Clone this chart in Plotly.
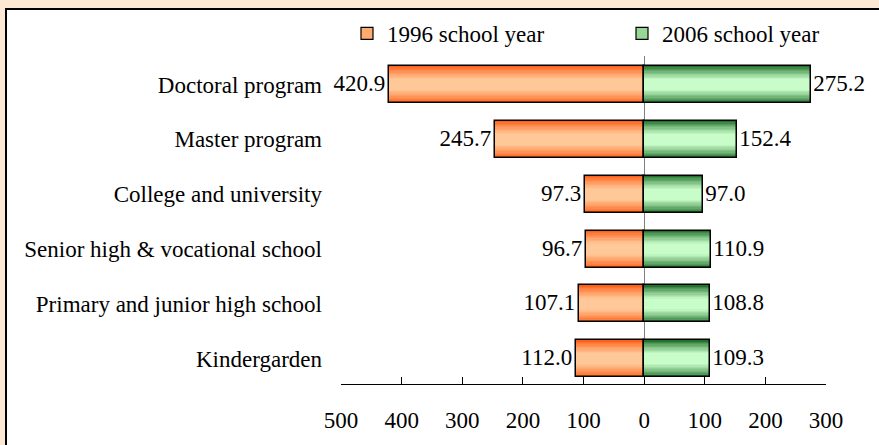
import plotly.graph_objects as go

categories = ["Kindergarden", "Primary and junior high school", "Senior high & vocational school",
              "College and university", "Master program", "Doctoral program"]
values_1996 = [112.0, 107.1, 96.7, 97.3, 245.7, 420.9]
values_2006 = [109.3, 108.8, 110.9, 97.0, 152.4, 275.2]
series_names = ["1996 school year", "2006 school year"]
tick_values = [-500, -400, -300, -200, -100, 0, 100, 200, 300]
tick_labels = ["500", "400", "300", "200", "100", "0", "100", "200", "300"]

FONT = "Liberation Serif, Times New Roman, serif"
FS = 23
W, H = 879, 445
L, R, T, B = 341, 53, 52, 58
pw, ph = W - L - R, H - T - B

def px2x(p):
    return (p - L) / pw

def py2y(p):
    return (H - B - p) / ph

def mix(c1, c2, t):
    return "rgb(%d,%d,%d)" % tuple(round(a + (b - a) * t) for a, b in zip(c1, c2))

BAR_W = 0.675
N = 14
orange_edge, orange_mid = (255, 96, 25), (255, 200, 152)
green_edge, green_mid = (35, 115, 45), (200, 252, 200)

ypos = list(range(len(categories)))
left_x = [-v for v in values_1996]

fig = go.Figure()
# gradient layers (edge -> centre)
for vals, edge, mid in [(left_x, orange_edge, orange_mid), (values_2006, green_edge, green_mid)]:
    for k in range(N):
        t = k / (N - 1)
        f = min(1.0, (t / 0.75) ** 0.8)
        fig.add_trace(go.Bar(
            y=ypos, x=vals, orientation="h", width=BAR_W * (1 - k / N),
            marker=dict(color=mix(edge, mid, f), line=dict(width=0)),
            showlegend=False, hoverinfo="skip"))

# outlines + value labels
for vals, raw in [(left_x, values_1996), (values_2006, values_2006)]:
    fig.add_trace(go.Bar(
        y=ypos, x=vals, orientation="h", width=BAR_W,
        marker=dict(color="rgba(0,0,0,0)", line=dict(color="black", width=1.5)),
        text=["%.1f" % v for v in raw], textposition="outside", cliponaxis=False,
        constraintext="none", textfont=dict(family=FONT, size=FS, color="black"),
        showlegend=False, hoverinfo="skip"))

# legend entries
fig.add_trace(go.Bar(y=[None], x=[None], orientation="h", name=series_names[0],
                     marker=dict(color="rgb(255,170,110)", line=dict(color="black", width=1.2)),
                     legend="legend"))
fig.add_trace(go.Bar(y=[None], x=[None], orientation="h", name=series_names[1],
                     marker=dict(color="rgb(150,215,150)", line=dict(color="black", width=1.2)),
                     legend="legend2"))

leg = dict(orientation="h", yanchor="middle", y=py2y(29), xanchor="left",
           font=dict(family=FONT, size=FS, color="black"), bgcolor="rgba(0,0,0,0)",
           borderwidth=0, itemclick=False)

fig.update_layout(
    width=W, height=H,
    margin=dict(l=L, r=R, t=T, b=B),
    paper_bgcolor="#FDE8D4", plot_bgcolor="rgba(0,0,0,0)",
    barmode="overlay", bargap=0,
    font=dict(family=FONT, size=FS, color="black"),
    legend=dict(leg, x=px2x(347)),
    legend2=dict(leg, x=px2x(622)),
    xaxis=dict(range=[-500, 300], tickvals=tick_values, ticktext=tick_labels,
               showline=True, linecolor="black", linewidth=1, ticks="inside", ticklen=7,
               tickcolor="black", tickwidth=1, showgrid=False, zeroline=True,
               zerolinecolor="#808080", zerolinewidth=1, ticklabelstandoff=15,
               tickfont=dict(family=FONT, size=FS, color="black"), fixedrange=True),
    yaxis=dict(range=[-0.46, 5.52], tickvals=ypos, ticktext=categories, showgrid=False,
               zeroline=False, showline=False, ticks="", ticklabelstandoff=18,
               tickfont=dict(family=FONT, size=FS, color="black"), fixedrange=True),
    shapes=[dict(type="rect", xref="paper", yref="paper", layer="below",
                 x0=px2x(6), x1=px2x(900), y0=py2y(460), y1=py2y(4),
                 fillcolor="white", line=dict(color="black", width=2))],
)

fig.write_html("out.html", config={"displayModeBar": False},
               post_script="document.body.style.margin='0';document.body.style.overflow='hidden';")
